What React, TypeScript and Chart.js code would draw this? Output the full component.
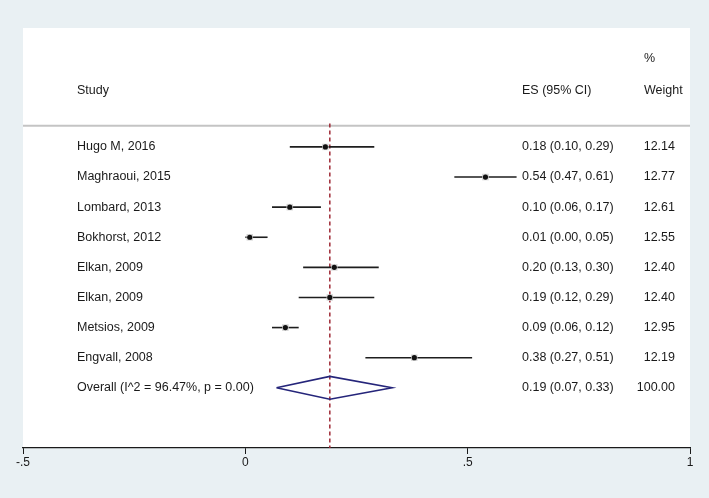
import { useEffect, useRef } from "react";
import { Chart, registerables } from "chart.js";

Chart.register(...registerables);

// ---- data ----
const studies = [
  "Hugo M, 2016",
  "Maghraoui, 2015",
  "Lombard, 2013",
  "Bokhorst, 2012",
  "Elkan, 2009",
  "Elkan, 2009",
  "Metsios, 2009",
  "Engvall, 2008",
];
const es = [0.18, 0.54, 0.1, 0.01, 0.2, 0.19, 0.09, 0.38];
const lower = [0.1, 0.47, 0.06, 0.0, 0.13, 0.12, 0.06, 0.27];
const upper = [0.29, 0.61, 0.17, 0.05, 0.3, 0.29, 0.12, 0.51];
const weights = [12.14, 12.77, 12.61, 12.55, 12.4, 12.4, 12.95, 12.19];
const overallLabel = "Overall (I^2 = 96.47%, p = 0.00)";
const overallES = 0.19;
const overallLower = 0.07;
const overallUpper = 0.33;
const overallWeight = 100.0;
const xTicks = [-0.5, 0, 0.5, 1];
const xTickLabels = ["-.5", "0", ".5", "1"];

// ---- layout constants ----
const W = 709;
const H = 498;
const Y_MIN = -3.95;
const Y_MAX = 10.0;
const HEADER_LINE_Y = -0.7;
const HEADER_Y = -1.86;
const PCT_Y = -2.92;
const DIAMOND_HALF = 0.38;
const FONT = "12.5px 'Liberation Sans', Arial, Helvetica, sans-serif";

const fmt = (v: number) => v.toFixed(2);

export default function App() {
  const ref = useRef<HTMLCanvasElement | null>(null);

  useEffect(() => {
    if (!ref.current) return;
    const overallRow = studies.length;

    const ciDatasets = studies.map((_, i) => ({
      label: "ci" + i,
      data: [
        { x: lower[i], y: i },
        { x: upper[i], y: i },
      ],
      showLine: true,
      borderColor: "#1e1e1e",
      borderWidth: 1.6,
      pointRadius: 0,
      order: 4,
    }));

    const bgPlugin = {
      id: "bgPlugin",
      beforeDraw(chart: any) {
        const { ctx, chartArea } = chart;
        ctx.save();
        ctx.fillStyle = "#e9f0f3";
        ctx.fillRect(0, 0, chart.width, chart.height);
        ctx.fillStyle = "#ffffff";
        ctx.fillRect(
          chartArea.left,
          chartArea.top,
          chartArea.right - chartArea.left,
          chartArea.bottom - chartArea.top
        );
        ctx.restore();
      },
    };

    const textPlugin = {
      id: "textPlugin",
      afterDatasetsDraw(chart: any) {
        const { ctx } = chart;
        const y = chart.scales.y;
        ctx.save();
        ctx.font = FONT;
        ctx.fillStyle = "#1a1a1a";
        ctx.textBaseline = "middle";
        ctx.textAlign = "left";
        // headers
        ctx.fillText("%", 644, y.getPixelForValue(PCT_Y));
        ctx.fillText("Study", 77, y.getPixelForValue(HEADER_Y));
        ctx.fillText("ES (95% CI)", 522, y.getPixelForValue(HEADER_Y));
        ctx.fillText("Weight", 644, y.getPixelForValue(HEADER_Y));
        // rows
        studies.forEach((s, i) => {
          const py = y.getPixelForValue(i);
          ctx.textAlign = "left";
          ctx.fillText(s, 77, py);
          ctx.fillText(
            `${fmt(es[i])} (${fmt(lower[i])}, ${fmt(upper[i])})`,
            522,
            py
          );
          ctx.textAlign = "right";
          ctx.fillText(fmt(weights[i]), 675, py);
        });
        const po = y.getPixelForValue(overallRow);
        ctx.textAlign = "left";
        ctx.fillText(overallLabel, 77, po);
        ctx.fillText(
          `${fmt(overallES)} (${fmt(overallLower)}, ${fmt(overallUpper)})`,
          522,
          po
        );
        ctx.textAlign = "right";
        ctx.fillText(fmt(overallWeight), 675, po);
        ctx.restore();
      },
    };

    const chart = new Chart(ref.current, {
      type: "scatter",
      data: {
        datasets: [
          {
            label: "header",
            data: [
              { x: xTicks[0], y: HEADER_LINE_Y },
              { x: xTicks[xTicks.length - 1], y: HEADER_LINE_Y },
            ],
            showLine: true,
            borderColor: "#c4c4c4",
            borderWidth: 2,
            pointRadius: 0,
            order: 10,
          },
          {
            label: "overallLine",
            data: [
              { x: overallES, y: HEADER_LINE_Y - 0.08 },
              { x: overallES, y: Y_MAX },
            ],
            showLine: true,
            borderColor: "#9e2a36",
            borderWidth: 1.5,
            borderDash: [4, 3],
            pointRadius: 0,
            order: 5,
          },
          ...ciDatasets,
          {
            label: "boxes",
            data: es.map((v, i) => ({ x: v, y: i })),
            pointStyle: "rect",
            pointRadius: weights.map((w) => Math.sqrt(w) * 1.3),
            backgroundColor: "#d4d4d4",
            borderColor: "#d4d4d4",
            borderWidth: 0,
            order: 3,
          },
          {
            label: "points",
            data: es.map((v, i) => ({ x: v, y: i })),
            pointStyle: "circle",
            pointRadius: 2.6,
            backgroundColor: "#111111",
            borderColor: "#111111",
            borderWidth: 0,
            order: 2,
          },
          {
            label: "diamond",
            data: [
              { x: overallLower, y: overallRow },
              { x: overallES, y: overallRow - DIAMOND_HALF },
              { x: overallUpper, y: overallRow },
              { x: overallES, y: overallRow + DIAMOND_HALF },
              { x: overallLower, y: overallRow },
            ],
            showLine: true,
            borderColor: "#25257a",
            borderWidth: 1.6,
            pointRadius: 0,
            tension: 0,
            order: 1,
          },
        ],
      },
      options: {
        responsive: false,
        animation: false,
        events: [],
        layout: { padding: { left: 23, right: 19, top: 28, bottom: 28 } },
        plugins: {
          legend: { display: false },
          tooltip: { enabled: false },
        },
        scales: {
          x: {
            type: "linear",
            min: xTicks[0],
            max: xTicks[xTicks.length - 1],
            afterBuildTicks: (scale: any) => {
              scale.ticks = xTicks.map((v) => ({ value: v }));
            },
            afterFit: (scale: any) => {
              scale.height = 22;
            },
            ticks: {
              autoSkip: false,
              maxRotation: 0,
              padding: 1,
              color: "#1a1a1a",
              font: { family: "'Liberation Sans', Arial, sans-serif", size: 12 },
              callback: (value: any) => {
                const idx = xTicks.indexOf(Number(value));
                return idx >= 0 ? xTickLabels[idx] : "";
              },
            },
            grid: {
              display: true,
              drawOnChartArea: false,
              drawTicks: true,
              tickLength: 6,
              color: "#1a1a1a",
              lineWidth: 1,
            },
            border: { display: true, color: "#1a1a1a", width: 1.2 },
          },
          y: {
            type: "linear",
            display: false,
            min: Y_MIN,
            max: Y_MAX,
            reverse: true,
          },
        },
      },
      plugins: [bgPlugin, textPlugin],
    } as any);

    return () => chart.destroy();
  }, []);

  return (
    <div style={{ position: "fixed", left: 0, top: 0, width: W, height: H }}>
      <canvas ref={ref} width={W} height={H} style={{ width: W, height: H, display: "block" }} />
    </div>
  );
}
